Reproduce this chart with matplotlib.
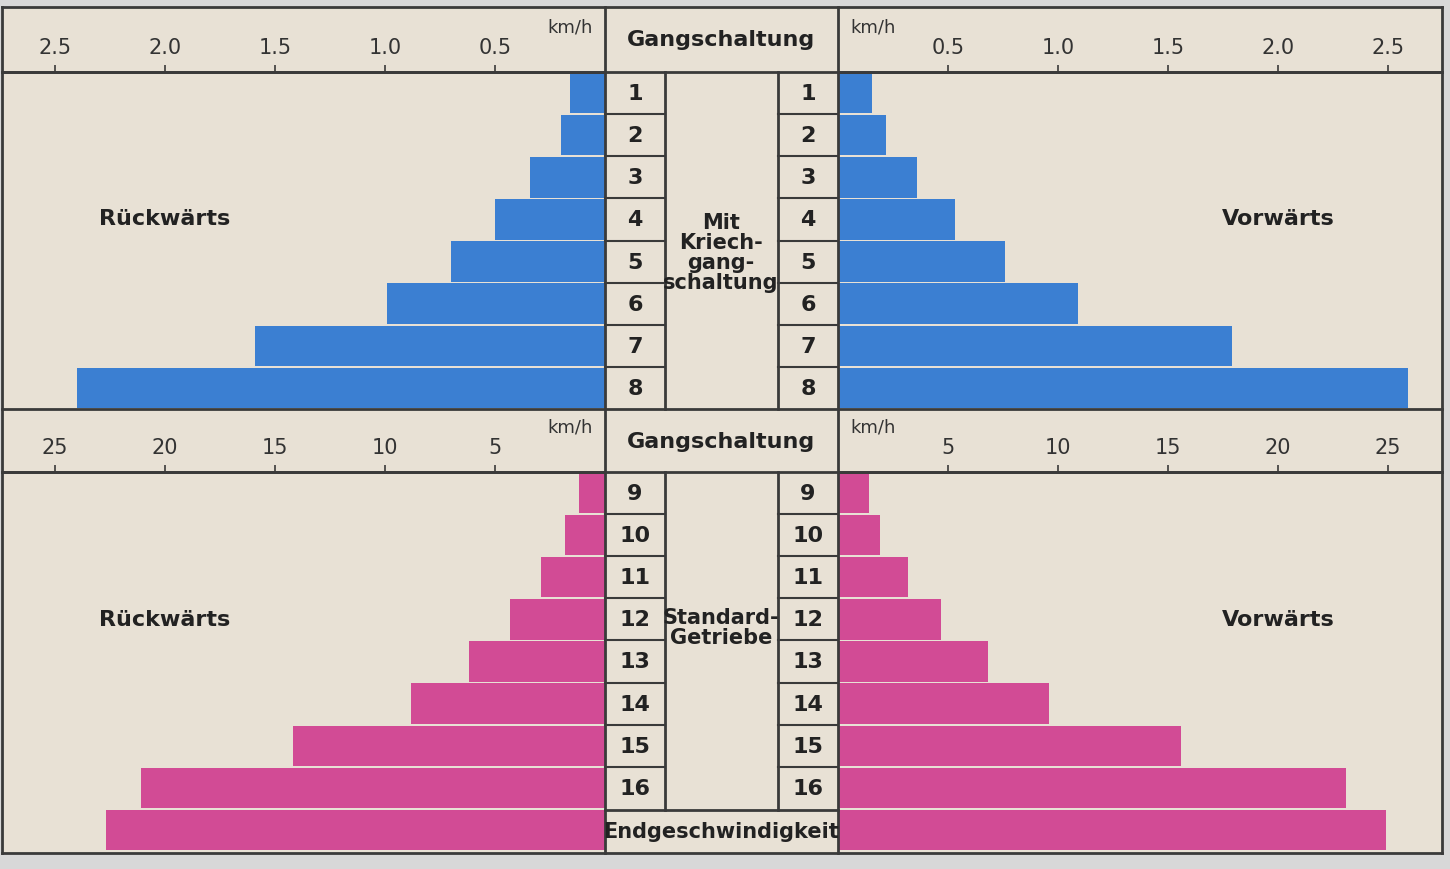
import matplotlib.pyplot as plt
from matplotlib.lines import Line2D

# Kriechgang (km/h)
crawl_gears = [1, 2, 3, 4, 5, 6, 7, 8]
crawl_back = [0.16, 0.20, 0.34, 0.50, 0.70, 0.99, 1.59, 2.40]
crawl_fwd = [0.155, 0.22, 0.36, 0.53, 0.76, 1.09, 1.79, 2.59]
# Standardgetriebe (km/h), last = Endgeschwindigkeit
std_gears = [9, 10, 11, 12, 13, 14, 15, 16]
std_back = [1.2, 1.8, 2.9, 4.3, 6.2, 8.8, 14.2, 21.1, 22.7]
std_fwd = [1.4, 1.9, 3.2, 4.7, 6.8, 9.6, 15.6, 23.1, 24.9]

BG = "#e8e1d5"
LINE = "#3a3a3a"
BLUE = "#3b7fd2"
PINK = "#d24b95"
W, H = 1450, 870

fig = plt.figure(figsize=(14.5, 8.7), dpi=100, facecolor="#d8d8d8")


def rect(x0, y0, x1, y1):
    # pixel box (top-left origin) -> figure fraction
    return [x0 / W, 1 - y1 / H, (x1 - x0) / W, (y1 - y0) / H]


def fx(x):
    return x / W


def fy(y):
    return 1 - y / H


bgax = fig.add_axes(rect(2, 8, 1442, 854))
bgax.set_facecolor(BG)
bgax.set_xticks([])
bgax.set_yticks([])
for s in bgax.spines.values():
    s.set_color(LINE)
    s.set_linewidth(2)


def panel(box, vals, color, xmax, ticks, left, nrows):
    ax = fig.add_axes(rect(*box))
    ax.patch.set_alpha(0)
    pos = list(range(1, len(vals) + 1))
    ax.barh(pos, vals, height=0.96, color=color)
    ax.set_ylim(nrows + 0.5, 0.5)
    ax.set_xlim((xmax, 0) if left else (0, xmax))
    ax.xaxis.set_ticks_position("top")
    ax.set_xticks(ticks)
    ax.set_xticklabels([f"{t:g}" if isinstance(t, int) else f"{t:.1f}" for t in ticks])
    ax.tick_params(axis="x", direction="out", length=5, width=1.2, colors=LINE,
                   labelsize=15, labelcolor="#333333", pad=6)
    ax.set_yticks([])
    for s in ax.spines.values():
        s.set_visible(False)
    ax.spines["top"].set_visible(True)
    ax.spines["top"].set_linewidth(2)
    ax.spines["top"].set_color(LINE)
    return ax


panel((2, 73, 605, 410), crawl_back, BLUE, 603 / 220, [0.5, 1.0, 1.5, 2.0, 2.5], True, 8)
panel((838, 73, 1442, 410), crawl_fwd, BLUE, 604 / 220, [0.5, 1.0, 1.5, 2.0, 2.5], False, 8)
panel((2, 473, 605, 852), std_back, PINK, 603 / 22, [5, 10, 15, 20, 25], True, 9)
panel((838, 473, 1442, 852), std_fwd, PINK, 604 / 22, [5, 10, 15, 20, 25], False, 9)

# structure lines
lines = [
    ((605, 605), (8, 854)), ((838, 838), (8, 854)),
    ((2, 1442), (410, 410)), ((2, 1442), (73, 73)), ((2, 1442), (473, 473)),
    ((665, 665), (73, 410)), ((778, 778), (73, 410)),
    ((665, 665), (473, 811)), ((778, 778), (473, 811)), ((605, 838), (811, 811)),
]
for (x0, x1), (y0, y1) in lines:
    fig.add_artist(Line2D([fx(x0), fx(x1)], [fy(y0), fy(y1)], color=LINE, lw=2))

txt = dict(color="#222222", fontsize=16, ha="center", va="center", fontweight="semibold")


# gear number boxes
def gear_column(gears, y0, y1, nrows):
    step = (y1 - y0) / nrows
    for i, g in enumerate(gears):
        yc = y0 + step * (i + 0.5)
        for xc in (635, 808):
            fig.text(fx(xc), fy(yc), str(g), **txt)
        if i > 0:
            yl = y0 + step * i
            for xa, xb in ((605, 665), (778, 838)):
                fig.add_artist(Line2D([fx(xa), fx(xb)], [fy(yl), fy(yl)], color=LINE, lw=1.5))


gear_column(crawl_gears, 73, 410, 8)
gear_column(std_gears, 473, 852, 9)

fig.text(fx(721), fy(40), "Gangschaltung", **txt)
fig.text(fx(721), fy(442), "Gangschaltung", **txt)
fig.text(fx(721), fy(832), "Endgeschwindigkeit", color="#222222", fontsize=15,
         ha="center", va="center", fontweight="semibold")
fig.text(fx(721), fy(253), "Mit\nKriech-\ngang-\nschaltung", linespacing=1.0,
         color="#222222", fontsize=15, ha="center", va="center", fontweight="semibold")
fig.text(fx(721), fy(628), "Standard-\nGetriebe", linespacing=1.0,
         color="#222222", fontsize=15, ha="center", va="center", fontweight="semibold")
for y in (219, 620):
    fig.text(fx(165), fy(y), "Rückwärts", **txt)
    fig.text(fx(1278), fy(y), "Vorwärts", **txt)
for y in (28, 428):
    fig.text(fx(570), fy(y), "km/h", color="#333333", fontsize=13, ha="center", va="center")
    fig.text(fx(873), fy(y), "km/h", color="#333333", fontsize=13, ha="center", va="center")

fig.savefig("out.png", dpi=100, facecolor=fig.get_facecolor())
